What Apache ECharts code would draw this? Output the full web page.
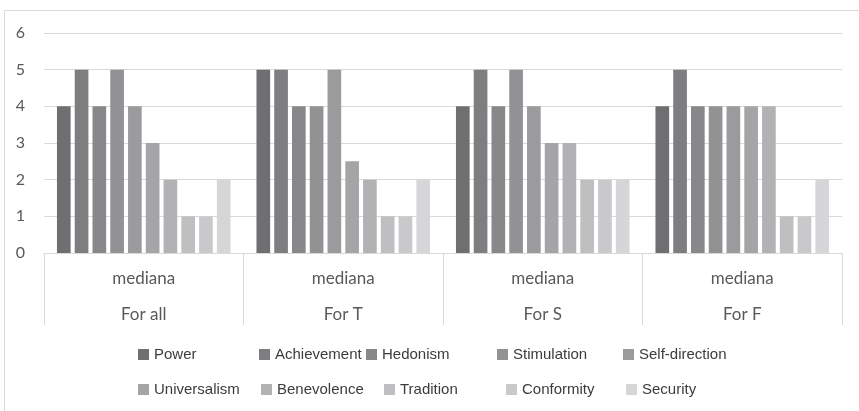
<!DOCTYPE html>
<html>
<head>
<meta charset="utf-8">
<script src="https://cdn.jsdelivr.net/npm/echarts@6/dist/echarts.min.js"></script>
<style>
  html, body { margin: 0; padding: 0; background: #ffffff; }
  #chart { width: 859px; height: 411px; }
</style>
</head>
<body>
<div id="chart"></div>
<script>
// Median scores of ten value types, per respondent group
const groups = ['For all', 'For T', 'For S', 'For F'];
const stat = ['mediana', 'mediana', 'mediana', 'mediana'];
const yTicks = [0, 1, 2, 3, 4, 5, 6];

const valueNames = ['Power', 'Achievement', 'Hedonism', 'Stimulation', 'Self-direction',
  'Universalism', 'Benevolence', 'Tradition', 'Conformity', 'Security'];

const power         = [4, 5, 4, 4];
const achievement   = [5, 5, 5, 5];
const hedonism      = [4, 4, 4, 4];
const stimulation   = [5, 4, 5, 4];
const selfDirection = [4, 5, 4, 4];
const universalism  = [3, 2.5, 3, 4];
const benevolence   = [2, 2, 3, 4];
const tradition     = [1, 1, 2, 1];
const conformity    = [1, 1, 2, 1];
const security      = [2, 2, 2, 2];

const seriesValues = [power, achievement, hedonism, stimulation, selfDirection,
  universalism, benevolence, tradition, conformity, security];

const shades = ['#6f6f71', '#7e7e80', '#88888a', '#929294', '#9b9b9d',
  '#a5a5a7', '#b2b2b4', '#bfbfc1', '#c9c9cb', '#d6d6d8'];

// legend placement: two rows of five entries
const legendSpots = [
  [138, 347], [259, 347], [366, 347], [497, 347], [623, 347],
  [138, 382], [261, 382], [384, 382], [506, 382], [626, 382]
];

const axisFont = 'Lato, "Open Sans", sans-serif';
const legendFont = '"Liberation Sans", Arial, sans-serif';

const chart = echarts.init(document.getElementById('chart'), null, { renderer: 'canvas' });

const option = {
  animation: false,
  backgroundColor: '#ffffff',
  color: shades,
  grid: { left: 44, right: 17, top: 33, bottom: 158 },
  graphic: [{
    type: 'polyline',
    shape: { points: [[4.5, 411], [4.5, 10.5], [859, 10.5]] },
    style: { fill: null, stroke: '#d9d9d9', lineWidth: 1 },
    z: -1
  }],
  legend: valueNames.map((name, i) => ({
    data: [name],
    left: legendSpots[i][0],
    top: legendSpots[i][1],
    padding: 0,
    itemWidth: 11,
    itemHeight: 11,
    icon: 'rect',
    selectedMode: false,
    textStyle: { color: '#3c3c3c', fontSize: 15, fontFamily: legendFont }
  })),
  xAxis: [{
    type: 'category',
    data: stat,
    position: 'bottom',
    axisLine: { show: true, lineStyle: { color: '#d9d9d9' } },
    axisTick: { show: true, interval: 0, length: 72, lineStyle: { color: '#d9d9d9' } },
    axisLabel: { interval: 0, color: '#595959', fontSize: 17, fontFamily: axisFont, margin: 17 }
  }, {
    type: 'category',
    data: groups,
    position: 'bottom',
    offset: 36,
    axisLine: { show: false },
    axisTick: { show: false },
    axisLabel: { interval: 0, color: '#595959', fontSize: 17, fontFamily: axisFont, margin: 17 }
  }],
  yAxis: {
    type: 'value',
    min: yTicks[0],
    max: yTicks[yTicks.length - 1],
    interval: 1,
    axisLine: { show: false },
    axisTick: { show: false },
    splitLine: { lineStyle: { color: '#d9d9d9' } },
    axisLabel: { color: '#595959', fontSize: 16, fontFamily: axisFont, margin: 19 }
  },
  series: valueNames.map((name, i) => ({
    name: name,
    type: 'bar',
    xAxisIndex: 0,
    data: seriesValues[i],
    barGap: '30%',
    barCategoryGap: '13%',
    itemStyle: { color: shades[i] }
  }))
};

chart.setOption(option);
</script>
</body>
</html>
